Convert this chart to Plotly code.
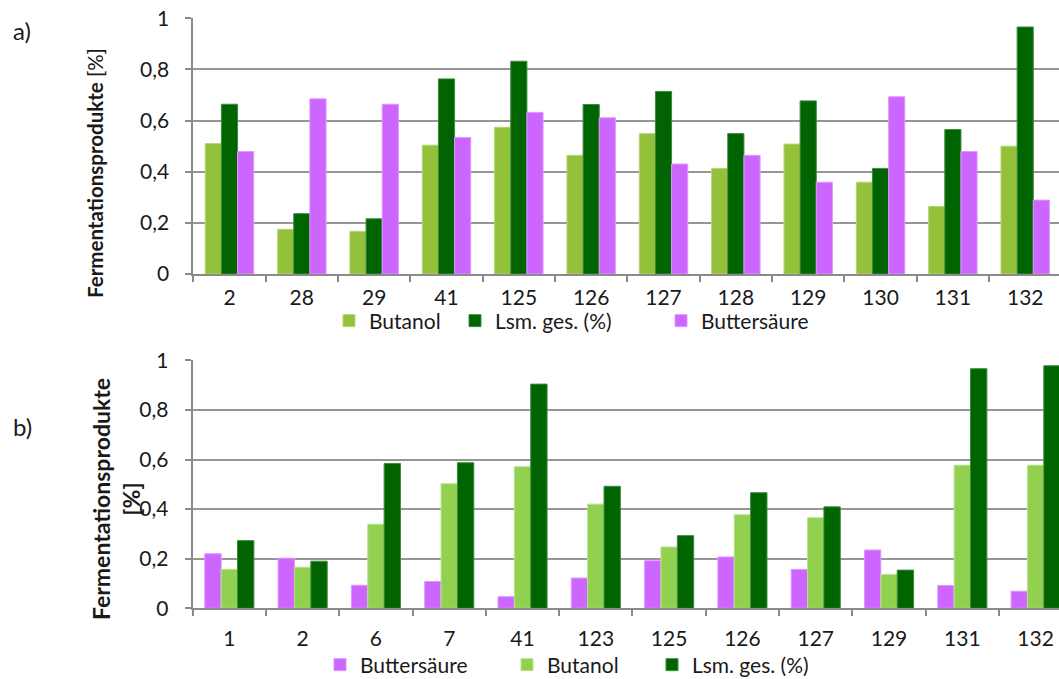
import plotly.graph_objects as go

# --- data -------------------------------------------------------------
top_cats = ["2", "28", "29", "41", "125", "126", "127", "128", "129", "130", "131", "132"]
top_butanol = [0.51, 0.175, 0.167, 0.504, 0.574, 0.464, 0.549, 0.413, 0.508, 0.359, 0.264, 0.50]
top_lsm = [0.664, 0.236, 0.216, 0.763, 0.832, 0.663, 0.714, 0.549, 0.677, 0.413, 0.565, 0.966]
top_butter = [0.479, 0.685, 0.664, 0.534, 0.632, 0.611, 0.430, 0.464, 0.359, 0.693, 0.479, 0.289]

bot_cats = ["1", "2", "6", "7", "41", "123", "125", "126", "127", "129", "131", "132"]
bot_butter = [0.220, 0.202, 0.093, 0.108, 0.047, 0.122, 0.192, 0.207, 0.157, 0.235, 0.092, 0.069]
bot_butanol = [0.157, 0.166, 0.339, 0.502, 0.571, 0.420, 0.247, 0.377, 0.365, 0.136, 0.577, 0.577]
bot_lsm = [0.273, 0.190, 0.584, 0.587, 0.904, 0.492, 0.293, 0.466, 0.409, 0.154, 0.966, 0.978]

y_tickvals = [0, 0.2, 0.4, 0.6, 0.8, 1]
y_ticktext = ["0", "0,2", "0,4", "0,6", "0,8", "1"]

# --- styling ----------------------------------------------------------
W, H = 1059, 679
FONT = "Lato, Carlito, Calibri, sans-serif"
C_BUT_A = "#94c13a"
C_BUT_B = "#92d050"
C_LSM = "#006400"
C_BS = "#cc66ff"
GRID = "#969696"
AXIS = "#8a8a8a"
TXT = "#1a1a1a"


def py(px):
    return 1 - px / H


def bar(name, x, y, color, xa, ya, legend, edge):
    return go.Bar(
        name=name, x=x, y=y, xaxis=xa, yaxis=ya, legend=legend, showlegend=True,
        marker=dict(color=color, line=dict(color=edge, width=1)),
    )


fig = go.Figure()
# panel a  (one legend box per entry so each key sits at its own spot)
fig.add_trace(bar("Butanol", top_cats, top_butanol, C_BUT_A, "x", "y", "legend", "#b5d77a"))
fig.add_trace(bar("Lsm. ges. (%)", top_cats, top_lsm, C_LSM, "x", "y", "legend2", "#3f8a3f"))
fig.add_trace(bar("Buttersäure", top_cats, top_butter, C_BS, "x", "y", "legend3", "#dd99ff"))
# panel b
fig.add_trace(bar("Buttersäure", bot_cats, bot_butter, C_BS, "x2", "y2", "legend4", "#dd99ff"))
fig.add_trace(bar("Butanol", bot_cats, bot_butanol, C_BUT_B, "x2", "y2", "legend5", "#b9e28f"))
fig.add_trace(bar("Lsm. ges. (%)", bot_cats, bot_lsm, C_LSM, "x2", "y2", "legend6", "#3f8a3f"))

xcommon = dict(
    type="category", showgrid=False, showline=True, linecolor=AXIS, linewidth=2,
    ticks="outside", tickson="boundaries", ticklen=6, tickwidth=1.5, tickcolor=AXIS,
    tickfont=dict(family=FONT, size=21, color=TXT),
)
ycommon = dict(
    range=[0, 1], tickvals=y_tickvals, ticktext=y_ticktext, showgrid=True,
    gridcolor=GRID, gridwidth=1.5, showline=True, linecolor=AXIS, linewidth=2,
    ticks="outside", ticklen=6, tickwidth=1.5, tickcolor=AXIS, zeroline=False,
    tickfont=dict(family=FONT, size=21, color=TXT), ticklabelstandoff=12,
)


def leg(x_text, y_px):
    return dict(
        orientation="h", xanchor="left", yanchor="middle",
        x=(x_text - 40) / W, y=py(y_px),
        font=dict(family=FONT, size=21, color=TXT), bgcolor="rgba(0,0,0,0)",
    )


fig.update_layout(
    width=W, height=H, margin=dict(l=0, r=0, t=0, b=0, autoexpand=False),
    paper_bgcolor="white", plot_bgcolor="white", showlegend=True,
    barmode="group", bargap=0.33, bargroupgap=0,
    font=dict(family=FONT, color=TXT),
    xaxis=dict(xcommon, domain=[193.3 / W, 1], anchor="y", range=[-0.5, 11.467],
               ticklabelstandoff=4),
    yaxis=dict(ycommon, domain=[py(274), py(18.3)], anchor="x"),
    xaxis2=dict(xcommon, domain=[192.7 / W, 1], anchor="y2", range=[-0.5, 11.319],
                ticklabelstandoff=10),
    yaxis2=dict(ycommon, domain=[py(608.3), py(360.3)], anchor="x2"),
    legend=leg(369, 321),
    legend2=leg(495, 321),
    legend3=leg(701, 321),
    legend4=leg(360, 665),
    legend5=leg(547, 665),
    legend6=leg(692, 665),
    annotations=[
        dict(text="a)", x=22 / W, y=py(31), xref="paper", yref="paper", showarrow=False,
             xanchor="center", yanchor="middle",
             font=dict(family=FONT, size=24, color=TXT)),
        dict(text="b)", x=22 / W, y=py(426), xref="paper", yref="paper", showarrow=False,
             xanchor="center", yanchor="middle",
             font=dict(family=FONT, size=24, color=TXT)),
        dict(text="<b>Fermentationsprodukte</b> [%]", textangle=-90,
             x=95 / W, y=py(173), xref="paper", yref="paper", showarrow=False,
             xanchor="center", yanchor="middle",
             font=dict(family=FONT, size=20.5, color=TXT)),
        dict(text="<b>Fermentationsprodukte</b><br><b>[%]</b>", textangle=-90,
             x=116 / W, y=py(499), xref="paper", yref="paper", showarrow=False,
             xanchor="center", yanchor="middle",
             font=dict(family=FONT, size=23, color=TXT)),
    ],
)

fig.write_html("out.html")
